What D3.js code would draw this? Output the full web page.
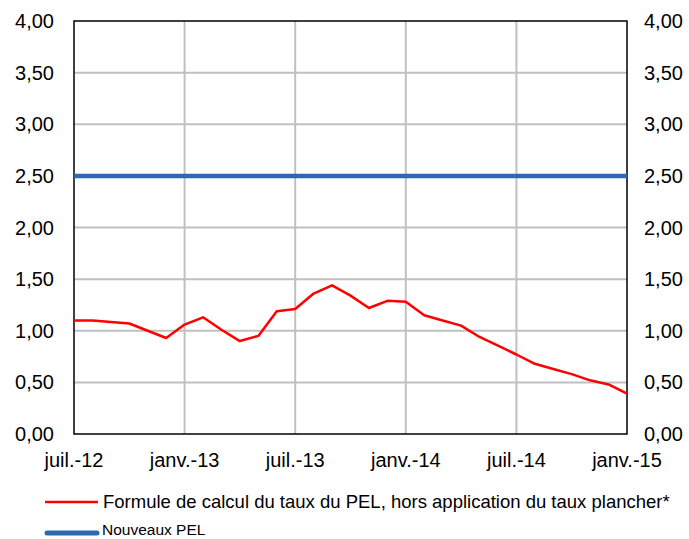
<!DOCTYPE html>
<html><head><meta charset="utf-8">
<script src="https://cdn.jsdelivr.net/npm/d3@7"></script>
<style>body{margin:0;background:#fff}svg{display:block}text{font-family:"Liberation Sans",Arial,sans-serif}</style>
</head><body><svg id="c" width="689" height="539"></svg>
<script>
// Months from juil.-12 (index 0) to janv.-15 (index 30)
const months = d3.range(0, 31);
const pelFormula = [1.10,1.10,1.085,1.07,1.00,0.93,1.06,1.13,1.01,0.90,0.95,1.19,1.21,1.36,1.44,1.34,1.22,1.29,1.28,1.15,1.10,1.05,0.94,0.855,0.77,0.68,0.63,0.58,0.52,0.48,0.39];
const nouveauxPEL = months.map(() => 2.50);
const xTickMonths = [0, 6, 12, 18, 24, 30];
const xTickLabels = ["juil.-12","janv.-13","juil.-13","janv.-14","juil.-14","janv.-15"];
const yTicks = [0,0.5,1,1.5,2,2.5,3,3.5,4];
const seriesNames = ["Formule de calcul du taux du PEL, hors application du taux plancher*", "Nouveaux PEL"];
const colors = ["#ff0000", "#2e68b1"];

const svg = d3.select("#c");
const L = 74, R = 627, T = 21, B = 434;
const x = d3.scaleLinear().domain([0, 30]).range([L, R]);
const y = d3.scaleLinear().domain([0, 4]).range([B, T]);
const fmt = v => d3.format(".2f")(v).replace(".", ",");

// gridlines
svg.append("g").selectAll("line").data(yTicks.filter(v => v > 0 && v < 4)).join("line")
  .attr("x1", L).attr("x2", R).attr("y1", d => y(d)).attr("y2", d => y(d))
  .attr("stroke", "#c0c0c0").attr("stroke-width", 2);
svg.append("g").selectAll("line").data(xTickMonths.filter(v => v > 0 && v < 30)).join("line")
  .attr("y1", T).attr("y2", B).attr("x1", d => x(d)).attr("x2", d => x(d))
  .attr("stroke", "#c0c0c0").attr("stroke-width", 2);

// border
svg.append("rect").attr("x", L).attr("y", T).attr("width", R - L).attr("height", B - T)
  .attr("fill", "none").attr("stroke", "#000").attr("stroke-width", 1.5);

// y labels left & right
const yl = svg.append("g").attr("font-size", 20).attr("fill", "#000");
yl.selectAll("text.l").data(yTicks).join("text").attr("class", "l")
  .attr("x", 54).attr("y", d => y(d)).attr("dy", "0.35em").attr("text-anchor", "end").text(fmt);
yl.selectAll("text.r").data(yTicks).join("text").attr("class", "r")
  .attr("x", 644).attr("y", d => y(d)).attr("dy", "0.35em").attr("text-anchor", "start").text(fmt);

// x labels
svg.append("g").attr("font-size", 20).selectAll("text").data(xTickMonths).join("text")
  .attr("x", d => x(d)).attr("y", 467).attr("text-anchor", "middle")
  .text((d, i) => xTickLabels[i]);

// lines
const line = d3.line().x((d, i) => x(months[i])).y(d => y(d));
svg.append("path").datum(nouveauxPEL).attr("d", line).attr("fill", "none")
  .attr("stroke", colors[1]).attr("stroke-width", 4.5);
svg.append("path").datum(pelFormula).attr("d", line).attr("fill", "none")
  .attr("stroke", colors[0]).attr("stroke-width", 2.5).attr("stroke-linejoin", "round");

// legend
const lg = svg.append("g");
lg.append("line").attr("x1", 45).attr("x2", 98).attr("y1", 502).attr("y2", 502)
  .attr("stroke", colors[0]).attr("stroke-width", 2.5);
lg.append("text").attr("x", 103).attr("y", 508).attr("font-size", 18.5).text(seriesNames[0]);
lg.append("line").attr("x1", 47).attr("x2", 97).attr("y1", 533).attr("y2", 533)
  .attr("stroke", colors[1]).attr("stroke-width", 5).attr("stroke-linecap", "round");
lg.append("text").attr("x", 102).attr("y", 535).attr("font-size", 15.5).text(seriesNames[1]);
</script></body></html>
